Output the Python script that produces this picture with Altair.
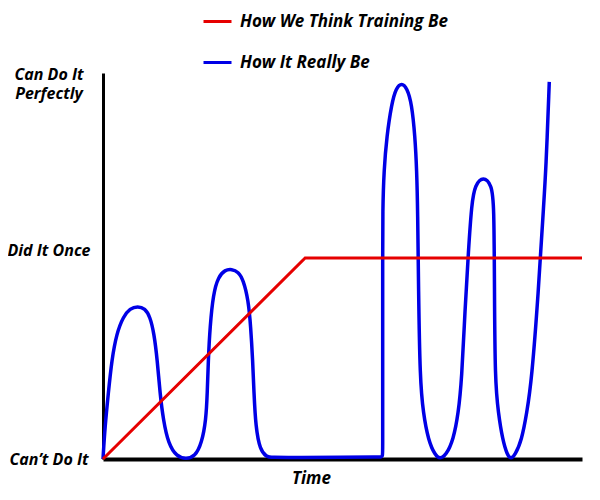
import json
import altair as alt
import pandas as pd

# ---- data ----
series_names = ["How We Think Training Be", "How It Really Be"]
series_colors = ["#e60000", "#0000e6"]

plan_time = [0, 42.2, 100]
plan_skill = [0, 52.1, 52.1]

real_time = [0, 0.42, 1.11, 1.82, 2.86, 4.24, 5.64, 7.24, 8.77, 9.81, 10.65, 11.34,
             11.90, 12.59, 13.63, 15.39, 17.33, 19.21, 20.61, 21.50, 21.77, 21.98,
             22.34, 23.03, 24.07, 25.47, 26.87, 28.25, 29.29, 30.33, 30.84, 31.25,
             31.52, 31.88, 32.78, 34.18, 34.86, 41.1, 49.5, 57.9, 58.39, 58.39,
             58.39, 58.39, 58.39, 58.39, 58.66, 59.23, 60.27, 61.17, 62.36, 63.47,
             64.45, 65.14, 65.49, 65.70, 65.87, 66.18, 66.87, 67.91, 69.31, 70.35,
             71.61, 73.13, 74.18, 74.89, 75.57, 76.30, 76.97, 77.66, 79.40, 81.15,
             81.63, 81.73, 81.84, 82.53, 83.44, 84.41, 85.11, 86.01, 87.41, 88.46,
             89.50, 90.88, 91.92, 92.48, 93.17]
real_skill = [0, 8.4, 17.0, 25.6, 32.6, 36.9, 39.0, 39.6, 39.0, 36.9, 32.6, 25.6,
              17.0, 10.1, 4.0, 0.6, 0.0, 0.6, 4.1, 10.1, 17.0, 25.6,
              34.3, 42.9, 47.2, 49.0, 49.2, 48.5, 46.4, 41.2, 34.3, 25.6,
              17.0, 8.4, 2.3, 0.6, 0.4, 0.4, 0.5, 0.5, 0.5, 2.5,
              15.3, 36.0, 51.6, 64.5, 74.9, 83.5, 92.1, 96.1, 97.5, 96.1,
              92.1, 83.5, 74.9, 64.5, 43.8, 20.5, 11.8, 4.9, 1.0, 0.0,
              1.0, 4.9, 11.8, 20.5, 38.6, 54.1, 66.2, 71.0, 73.3, 71.0,
              66.2, 43.8, 20.5, 11.8, 4.9, 1.0, 0.0, 1.0, 4.9, 11.8,
              20.5, 43.0, 64.5, 74.9, 97.7]

y_tick_values = [0, 54, 99.5]
y_tick_labels = [["Can’t Do It"], ["Did It Once"], ["Can Do It", "Perfectly"]]
x_title = "Time"

FONT = "Open Sans"

plan_df = pd.DataFrame({"t": plan_time, "skill": plan_skill,
                        "series": series_names[0], "step": range(len(plan_time))})
real_df = pd.DataFrame({"t": real_time, "skill": real_skill,
                        "series": series_names[1], "step": range(len(real_time))})

# label expression built from the tick arrays
expr = "''"
for v, lab in zip(reversed(y_tick_values), reversed(y_tick_labels)):
    if len(lab) == 1:
        txt = json.dumps(lab[0], ensure_ascii=False)
    else:
        txt = "[" + ", ".join(json.dumps(s, ensure_ascii=False) for s in lab) + "]"
    expr = f"datum.value == {v} ? {txt} : ({expr})"

color = alt.Color(
    "series:N",
    scale=alt.Scale(domain=series_names, range=series_colors),
    legend=alt.Legend(
        title=None, orient="none", legendX=99, legendY=-67,
        symbolType="stroke", symbolSize=784, symbolStrokeWidth=3,
        labelFontSize=17, labelFont=FONT, labelFontStyle="italic",
        labelFontWeight="bold", labelColor="black", rowPadding=17,
        labelOffset=7, padding=0, labelLimit=400,
    ),
)

x = alt.X(
    "t:Q",
    scale=alt.Scale(domain=[0, 100], nice=False, zero=False),
    axis=alt.Axis(title=x_title, ticks=False, labels=False, grid=False,
                  domainColor="black", domainWidth=4,
                  titleFont=FONT, titleFontSize=17, titleFontStyle="italic",
                  titleFontWeight="bold", titleColor="black", titlePadding=11,
                  titleX=208, titleAlign="center"),
)
y = alt.Y(
    "skill:Q",
    scale=alt.Scale(domain=[0, 100], nice=False, zero=False),
    axis=alt.Axis(title=None, values=y_tick_values, labelExpr=expr,
                  ticks=False, grid=False, domainColor="black", domainWidth=3,
                  labelAlign="center", labelBaseline="middle", labelPadding=54.5,
                  labelFont=FONT, labelFontSize=16, labelFontStyle="italic",
                  labelFontWeight="bold", labelColor="black", labelLineHeight=19,
                  labelFlush=False, labelOverlap=False),
)

real = alt.Chart(real_df).mark_line(interpolate="basis", strokeWidth=3.5).encode(
    x=x, y=y, color=color, order="step:Q")
plan = alt.Chart(plan_df).mark_line(strokeWidth=3).encode(
    x=x, y=y, color=color, order="step:Q")

chart = alt.layer(real, plan).properties(
    width=479, height=386,
    autosize=alt.AutoSizeParams(type="none"),
    padding={"left": 95, "top": 65, "right": 10, "bottom": 30},
).configure_view(stroke=None)

chart.save("out.html", embed_options={"renderer": "svg", "actions": False})
